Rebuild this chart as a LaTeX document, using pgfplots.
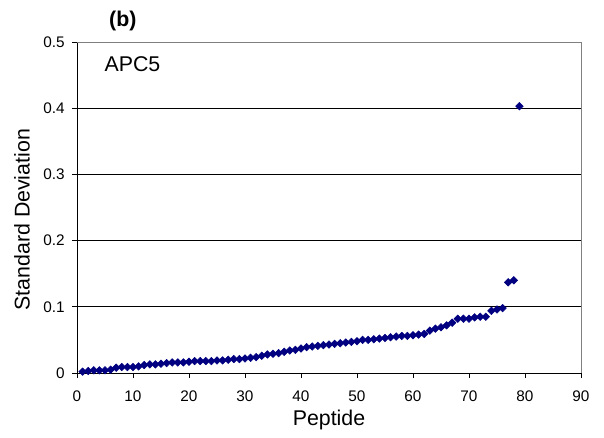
\documentclass[border=0pt]{standalone}
\usepackage{fontspec}
\setmainfont{Liberation Sans}
\usepackage{pgfplots}
\pgfplotsset{compat=1.18}
\definecolor{ptblue}{RGB}{0,0,128}
\definecolor{frame}{RGB}{128,128,128}

\pgfplotstableread{
x y
1 0.002
2 0.003
3 0.004
4 0.004
5 0.004
6 0.005
7 0.008
8 0.009
9 0.009
10 0.009
11 0.010
12 0.012
13 0.013
14 0.013
15 0.014
16 0.015
17 0.016
18 0.016
19 0.016
20 0.017
21 0.018
22 0.018
23 0.018
24 0.018
25 0.019
26 0.019
27 0.020
28 0.021
29 0.021
30 0.022
31 0.023
32 0.024
33 0.026
34 0.028
35 0.029
36 0.030
37 0.032
38 0.034
39 0.035
40 0.037
41 0.039
42 0.040
43 0.041
44 0.042
45 0.043
46 0.044
47 0.045
48 0.046
49 0.047
50 0.048
51 0.050
52 0.050
53 0.051
54 0.052
55 0.053
56 0.054
57 0.055
58 0.056
59 0.056
60 0.057
61 0.058
62 0.059
63 0.064
64 0.067
65 0.069
66 0.072
67 0.076
68 0.082
69 0.082
70 0.082
71 0.084
72 0.085
73 0.085
74 0.094
75 0.096
76 0.098
77 0.137
78 0.140
79 0.403
}\sdtable

\begin{document}
\begin{tikzpicture}
  \begin{axis}[
      name=ax,
      scale only axis,
      width=378pt, height=248.25pt,
      xmin=0, xmax=90, ymin=0, ymax=0.5,
      xtick={0,10,...,90},
      ytick={0,0.1,0.2,0.3,0.4,0.5},
      yticklabel style={/pgf/number format/fixed, /pgf/number format/precision=1, xshift=-2pt},
      xticklabel style={yshift=-6pt},
      /pgf/number format/assume math mode=true,
      ticklabel style={font=\fontsize{11.5}{13}\selectfont},
      axis x line*=bottom, axis y line*=left,
      axis line style={black, line width=0.6pt, -},
      tick style={black, line width=0.6pt},
      tick align=outside,
      major tick length=3.75pt,
      ymajorgrids=true,
      grid style={black, line width=0.5pt},
      xlabel={Peptide},
      ylabel={Standard Deviation},
      label style={font=\fontsize{16}{18}\selectfont},
      xlabel style={at={(axis description cs:0.5,-0.142)}, anchor=center},
      ylabel style={at={(axis description cs:-0.109,0.463)}, anchor=center},
      clip=false,
    ]
    \addplot[only marks, mark=square*, mark size=2pt,
      color=ptblue, mark options={fill=ptblue, draw=ptblue, rotate=45}]
      table[x=x, y=y] {\sdtable};
    \draw[frame, line width=0.6pt] (rel axis cs:0,1) -- (rel axis cs:1,1) -- (rel axis cs:1,0);
    \node[font=\fontsize{16}{18}\selectfont] at (rel axis cs:0.110,0.932) {APC5};
    \node[font=\bfseries\fontsize{16}{18}\selectfont] at (rel axis cs:0.091,1) [yshift=16pt] {(b)};
  \end{axis}
  \pgfresetboundingbox
  \path (ax.south west) ++(-57.75pt,-48.75pt) coordinate (bbsw);
  \path (ax.north east) ++(17.25pt,31.5pt) coordinate (bbne);
  \path[use as bounding box] (bbsw) rectangle (bbne);
\end{tikzpicture}
\end{document}
